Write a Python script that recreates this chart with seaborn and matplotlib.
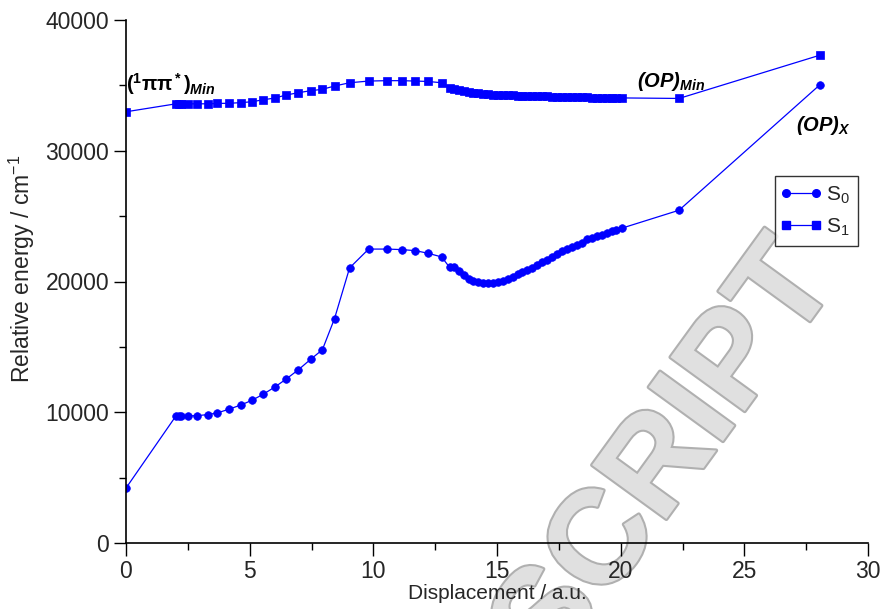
import matplotlib
matplotlib.use("Agg")
import matplotlib.pyplot as plt
import pandas as pd
import seaborn as sns
from matplotlib import patheffects as pe
from matplotlib.legend_handler import HandlerLine2D
from matplotlib.lines import Line2D
from matplotlib.ticker import MultipleLocator

# Displacement along the scan (a.u.), shared by both states
displacement = [
    0.00, 2.02, 2.13, 2.22, 2.49, 2.88, 3.30, 3.69, 4.16, 4.65,
    5.10, 5.55, 6.01, 6.47, 6.97, 7.46, 7.94, 8.43, 9.04, 9.81,
    10.54, 11.15, 11.70, 12.21, 12.76, 13.08, 13.27, 13.46, 13.65, 13.85,
    14.03, 14.23, 14.43, 14.63, 14.83, 15.03, 15.23, 15.43, 15.63, 15.83,
    16.03, 16.23, 16.43, 16.63, 16.83, 17.03, 17.23, 17.43, 17.63, 17.83,
    18.03, 18.23, 18.43, 18.63, 18.83, 19.03, 19.23, 19.43, 19.63, 19.83,
    20.05, 22.36, 28.04,
]

# Ground state S0 relative energy (cm^-1)
s0_energy = [
    4200, 9720, 9720, 9720, 9720, 9740, 9820, 9950, 10230, 10560,
    10920, 11380, 11920, 12530, 13250, 14040, 14780, 17160, 21040, 22480,
    22480, 22440, 22360, 22160, 21880, 21090, 21100, 20830, 20500, 20190,
    20040, 19940, 19860, 19850, 19860, 19940, 20040, 20190, 20370, 20550,
    20710, 20880, 21060, 21270, 21460, 21680, 21900, 22110, 22330, 22500,
    22660, 22820, 22960, 23230, 23320, 23450, 23580, 23700, 23830, 23950,
    24080, 25450, 35020,
]

# Excited state S1 relative energy (cm^-1)
s1_energy = [
    32980, 33590, 33590, 33590, 33590, 33590, 33590, 33620, 33630, 33680,
    33750, 33900, 34030, 34260, 34440, 34590, 34700, 34950, 35200, 35330,
    35360, 35360, 35330, 35300, 35200, 34800, 34700, 34620, 34550, 34490,
    34440, 34400, 34360, 34320, 34300, 34280, 34260, 34250, 34230, 34220,
    34210, 34190, 34180, 34170, 34160, 34150, 34140, 34130, 34120, 34110,
    34100, 34090, 34090, 34080, 34070, 34060, 34060, 34050, 34050, 34040,
    34040, 34000, 37300,
]

state_labels = ["S$_0$", "S$_1$"]
state_markers = ["o", "s"]

sns.set_style("ticks")
plt.rcParams["font.family"] = ["Liberation Sans", "DejaVu Sans"]
plt.rcParams["mathtext.fontset"] = "custom"
plt.rcParams["mathtext.rm"] = "Liberation Sans"
plt.rcParams["mathtext.it"] = "Liberation Sans:italic"
plt.rcParams["mathtext.bf"] = "Liberation Sans:bold"
plt.rcParams["mathtext.bfit"] = "Liberation Sans:bold:italic"

n = len(displacement)
df = pd.DataFrame({
    "Displacement": displacement * 2,
    "Energy": s0_energy + s1_energy,
    "State": [state_labels[0]] * n + [state_labels[1]] * n,
})

fig = plt.figure(figsize=(8.81, 6.09), dpi=100)
ax = fig.add_axes([126 / 881, 1 - 543 / 609, 742 / 881, 523 / 609])
ax.set_facecolor("none")

blue = "#0000ff"
sns.lineplot(
    data=df, x="Displacement", y="Energy", hue="State", style="State",
    markers=dict(zip(state_labels, state_markers)), dashes=False,
    palette={state_labels[0]: blue, state_labels[1]: blue},
    sort=False, estimator=None, linewidth=0.9, markersize=5.5,
    markeredgecolor=blue, markeredgewidth=0.5, legend=False, ax=ax,
)

ax.set_xlim(0, 30)
ax.set_ylim(0, 40000)
ax.xaxis.set_major_locator(MultipleLocator(5))
ax.xaxis.set_minor_locator(MultipleLocator(2.5))
ax.yaxis.set_major_locator(MultipleLocator(10000))
ax.yaxis.set_minor_locator(MultipleLocator(5000))
ax.tick_params(which="major", direction="out", length=9, width=1,
               labelsize=16.5, color="black", pad=3)
ax.tick_params(which="minor", direction="out", length=5, width=1, color="black")
for side in ("top", "right"):
    ax.spines[side].set_visible(False)
for side in ("left", "bottom"):
    ax.spines[side].set_linewidth(1.2)
    ax.spines[side].set_color("black")

ax.set_xlabel("Displacement / a.u.", fontsize=15, labelpad=1)
ax.set_ylabel("Relative energy / cm$^{-1}$", fontsize=16.5)
ax.yaxis.set_label_coords(-0.12, 0.525)

# State labels
ax.text(0.0, 34550, r"$\mathbf{(^1\pi\pi^*)}_{\mathbfit{Min}}$",
        fontsize=14.5, ha="left", va="baseline", color="black")
ax.text(20.65, 34900, r"$\mathbfit{(OP)}_{\mathbfit{Min}}$",
        fontsize=14.5, ha="left", va="baseline", color="black")
ax.text(27.1, 31500, r"$\mathbfit{(OP)}_{\mathbfit{X}}$",
        fontsize=14.5, ha="left", va="baseline", color="black")

handles = [
    Line2D([], [], color=blue, marker=m, markersize=5.5, linewidth=0.9,
           markeredgecolor=blue)
    for m in state_markers
]
leg = ax.legend(handles, state_labels, loc="upper right",
                bbox_to_anchor=(0.987, 0.702), numpoints=2, fontsize=15,
                frameon=True, fancybox=False, edgecolor="black",
                handlelength=1.64, handletextpad=0.38, borderpad=0.42,
                labelspacing=0.5, borderaxespad=0,
                handler_map={Line2D: HandlerLine2D(marker_pad=0.1)})
leg.get_frame().set_linewidth(1.0)

# Watermark lettering
fig.text(668 / 881, 1 - 458 / 609, "SCRIPT", rotation=54,
         rotation_mode="anchor", ha="center", va="center", fontsize=96,
         fontweight="bold", color="#e0e0e0", zorder=-1,
         path_effects=[pe.withStroke(linewidth=3, foreground="#b0b0b0")])

fig.savefig("out.png", dpi=100)
